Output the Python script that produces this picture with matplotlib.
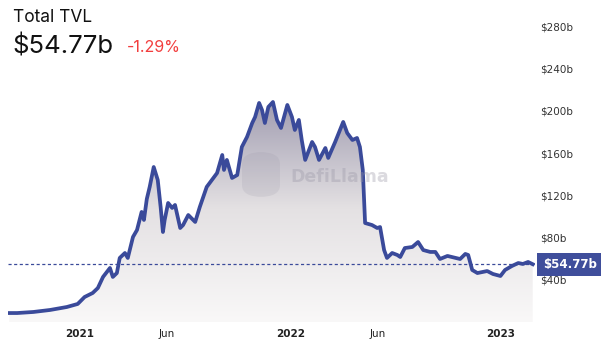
import numpy as np
import pandas as pd
import matplotlib
matplotlib.use('Agg')
import matplotlib.pyplot as plt
import matplotlib.dates as mdates
from matplotlib.patches import Rectangle, FancyBboxPatch

# TVL values (billions of USD)
dates = ['2020-08-31', '2020-09-14', '2020-10-12', '2020-11-10', '2020-12-09', '2020-12-28',
         '2021-01-09', '2021-01-23', '2021-02-01', '2021-02-10', '2021-02-22', '2021-02-27',
         '2021-03-06', '2021-03-11', '2021-03-20', '2021-03-25', '2021-04-03', '2021-04-10',
         '2021-04-18', '2021-04-22', '2021-04-27', '2021-05-02', '2021-05-09', '2021-05-16',
         '2021-05-21', '2021-05-25', '2021-05-28', '2021-06-03', '2021-06-10', '2021-06-15',
         '2021-06-24', '2021-06-29', '2021-07-08', '2021-07-20', '2021-07-28', '2021-08-09',
         '2021-08-18', '2021-08-27', '2021-09-05', '2021-09-08', '2021-09-13', '2021-09-22',
         '2021-10-01', '2021-10-09', '2021-10-18', '2021-10-27', '2021-11-01', '2021-11-08',
         '2021-11-13', '2021-11-18', '2021-11-24', '2021-12-02', '2021-12-09', '2021-12-16',
         '2021-12-27', '2022-01-04', '2022-01-09', '2022-01-16', '2022-01-21', '2022-01-27',
         '2022-02-08', '2022-02-13', '2022-02-20', '2022-03-03', '2022-03-08', '2022-03-20',
         '2022-04-03', '2022-04-10', '2022-04-19', '2022-04-27', '2022-05-02', '2022-05-07',
         '2022-05-11', '2022-05-23', '2022-06-01', '2022-06-06', '2022-06-13', '2022-06-18',
         '2022-06-27', '2022-07-06', '2022-07-11', '2022-07-19', '2022-08-01', '2022-08-11',
         '2022-08-20', '2022-09-01', '2022-09-10', '2022-09-18', '2022-10-01', '2022-10-23',
         '2022-11-01', '2022-11-06', '2022-11-13', '2022-11-22', '2022-12-09', '2022-12-19',
         '2023-01-01', '2023-01-09', '2023-01-21', '2023-02-01', '2023-02-09', '2023-02-18',
         '2023-02-26']
tvl = [8.5, 8.5, 9.5, 11.4, 14.2, 17.1,
       23.7, 27.5, 32.2, 42.7, 51.2, 42.7,
       46.4, 60.7, 65.4, 60.7, 80.6, 87.2,
       104.3, 96.7, 116.6, 128.0, 146.9, 134.6,
       109.0, 85.3, 96.7, 112.8, 108.1, 110.9,
       89.1, 91.9, 101.4, 94.8, 109.0, 128.0,
       134.6, 141.2, 158.3, 144.1, 153.6, 136.5,
       139.3, 165.9, 175.4, 188.6, 194.3, 207.6,
       201.0, 188.6, 203.8, 208.5, 191.5, 183.9,
       205.7, 194.3, 182.0, 191.5, 172.5, 153.6,
       170.6, 165.9, 153.6, 164.9, 155.5, 170.6,
       189.6, 179.1, 172.5, 174.4, 165.9, 144.1,
       93.8, 91.9, 89.1, 90.0, 68.2, 60.7,
       65.4, 63.5, 61.6, 70.1, 71.1, 75.8,
       68.2, 66.4, 66.4, 59.7, 62.6, 59.7,
       64.5, 63.5, 49.3, 46.4, 48.3, 45.5,
       43.6, 49.3, 53.1, 55.9, 55.0, 56.9,
       54.77]
current = 54.77
change = '-1.29%'

yticks = [40, 80, 120, 160, 200, 240, 280]
ytick_labels = ['$%db' % v for v in yticks]
xtick_dates = ['2021-01-01', '2021-06-01', '2022-01-01', '2022-06-01', '2023-01-01']
xtick_labels = ['2021', 'Jun', '2022', 'Jun', '2023']

line_color = '#3a4a9a'

x = pd.to_datetime(dates)
xn = mdates.date2num(x)

fig = plt.figure(figsize=(6.01, 3.4), dpi=100)
ax = fig.add_axes([8 / 601, 18 / 340, 527 / 601, 312 / 340])
ax.set_xlim(mdates.date2num(pd.Timestamp('2020-08-29')), mdates.date2num(pd.Timestamp('2023-03-02')))
ax.set_ylim(0, 295.7)

# gradient fill under the line
poly = ax.fill_between(xn, tvl, 0, color='none', lw=0)
grad = np.linspace(0, 1, 256).reshape(-1, 1)
cmap = matplotlib.colors.LinearSegmentedColormap.from_list('g', ['#f9f8f8', '#e4e1e3', '#9d99ae'])
img = ax.imshow(grad, cmap=cmap, aspect='auto', origin='lower',
                extent=[xn[0], xn[-1] + 4, 0, 215], zorder=1)
img.set_clip_path(poly.get_paths()[0], transform=ax.transData)

# DefiLlama watermark
logo = FancyBboxPatch((242 / 601, 143 / 340), 38 / 601, 45 / 340, transform=fig.transFigure,
                      boxstyle='round,pad=0,rounding_size=0.035', fc='#8e8b9c', ec='none', alpha=0.15, zorder=2)
fig.patches.append(logo)
fig.text(290 / 601, 1 - 177 / 340, 'DefiLlama', fontsize=12.5, fontweight='bold', color='#9895a5',
         alpha=0.35, ha='left', va='center', family='DejaVu Sans', zorder=2)

ax.plot(xn, tvl, color=line_color, lw=2.7, zorder=4, solid_joinstyle='round')
ax.axhline(current, color=line_color, lw=0.9, ls=(0, (2.5, 2)), zorder=3)

for s in ax.spines.values():
    s.set_visible(False)
ax.yaxis.tick_right()
ax.set_yticks(yticks)
ax.set_yticklabels(ytick_labels)
ax.tick_params(axis='y', length=0, pad=4, labelsize=7.5, labelcolor='#333333')
ax.set_xticks(mdates.date2num(pd.to_datetime(xtick_dates)))
ax.set_xticklabels(xtick_labels)
ax.tick_params(axis='x', length=0, pad=5, labelsize=7.5, labelcolor='#222222')
for lbl in ax.get_xticklabels():
    if lbl.get_text() != 'Jun':
        lbl.set_fontweight('bold')
ax.set_facecolor('none')

# current value tag on the right axis
tag_y = ax.transData.transform((0, current))[1] / 340
fig.patches.append(Rectangle((537 / 601, tag_y - 11.5 / 340), 64 / 601, 23 / 340,
                             transform=fig.transFigure, fc='#3f4e9b', ec='none', zorder=6))
fig.text(570 / 601, tag_y, '$%.2fb' % current, ha='center', va='center',
         fontsize=8.5, fontweight='bold', color='white', zorder=7)

fig.text(13 / 601, 1 - 18 / 340, 'Total TVL', fontsize=12.5, family='Inter', va='center', color='#111111')
fig.text(12 / 601, 1 - 47 / 340, '$%.2fb' % current, fontsize=18.5, family='Inter', va='center', color='#111111')
fig.text(127 / 601, 1 - 48 / 340, change, fontsize=11.5, family='Inter', va='center', color='#f23d3d')

fig.savefig('out.png', dpi=100)
